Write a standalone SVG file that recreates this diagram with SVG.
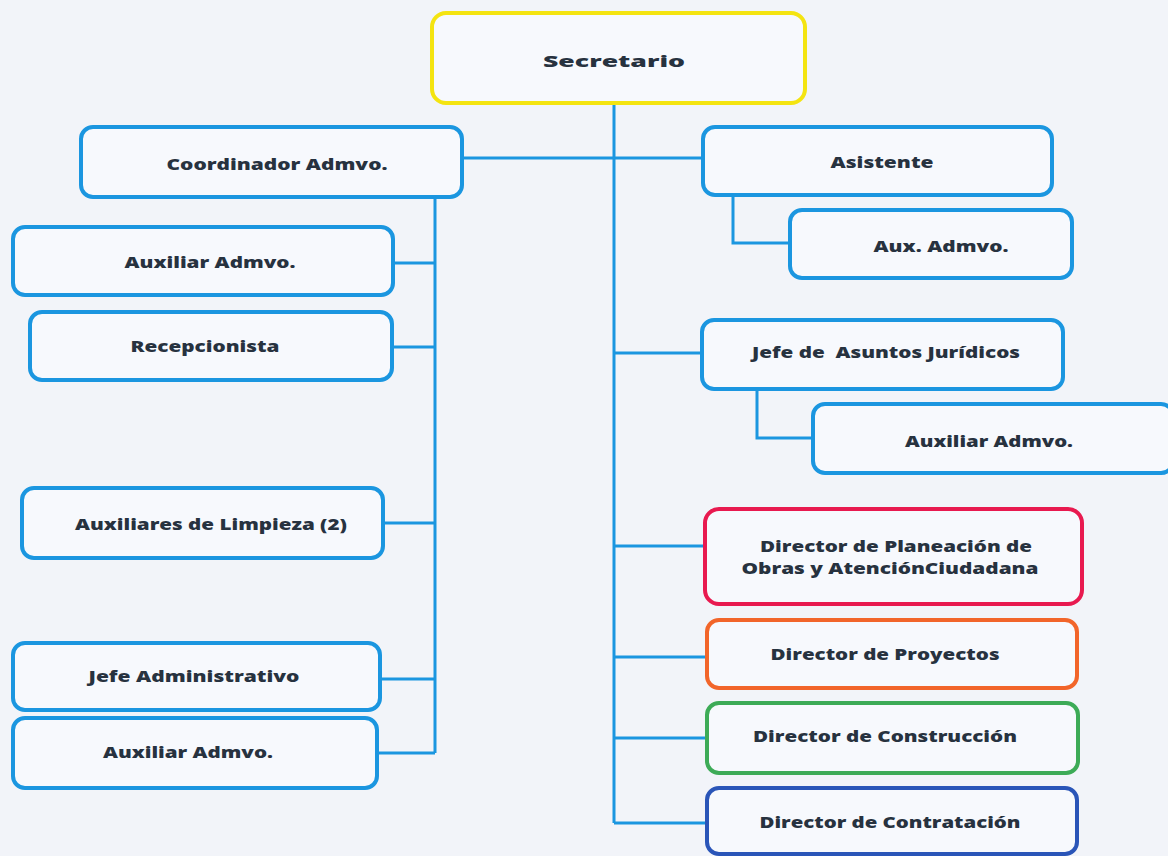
<svg xmlns="http://www.w3.org/2000/svg" width="1168" height="856" viewBox="0 0 1168 856">
<style>
.bx{fill:#f7f9fd;stroke:#1b96e0;stroke-width:4}
.y{stroke:#f4e411}
.r{stroke:#e8194f}
.o{stroke:#f2652a}
.g{stroke:#3dab57}
.b{stroke:#2a55b8}
.t{font-family:"Open Sans","Liberation Sans",sans-serif;font-weight:800;font-size:16px;fill:#27323f;text-anchor:middle}
.ln{fill:none;stroke:#1b96e0;stroke-width:3}
</style>
<rect width="1168" height="856" fill="#f2f4f9"/>
<g id="connectors">
<path class="ln" d="M614 103V823"/>
<path class="ln" d="M462 158H703"/>
<path class="ln" d="M435 197V753"/>
<path class="ln" d="M393 263H435M392 347H435M383 523H435M380 679H435M377 753H435"/>
<path class="ln" d="M733 195V243H790"/>
<path class="ln" d="M757 389V438H813"/>
<path class="ln" d="M614 353H702M614 546H705M614 657H707M614 738H707M614 823H707"/>
</g>
<g id="n-secretario"><rect class="bx y" x="432" y="13" width="373" height="90" rx="14"/><text class="t" x="614" y="67" font-size="20" textLength="142" lengthAdjust="spacingAndGlyphs">Secretario</text></g>
<g id="n-coordinador"><rect class="bx" x="81" y="127" width="381" height="70" rx="12"/><text class="t" x="277" y="170" textLength="221" lengthAdjust="spacingAndGlyphs">Coordinador Admvo.</text></g>
<g id="n-aux1"><rect class="bx" x="13" y="227" width="380" height="68" rx="12"/><text class="t" x="210" y="268" textLength="171" lengthAdjust="spacingAndGlyphs">Auxiliar Admvo.</text></g>
<g id="n-recep"><rect class="bx" x="30" y="312" width="362" height="68" rx="12"/><text class="t" x="205" y="352" textLength="149" lengthAdjust="spacingAndGlyphs">Recepcionista</text></g>
<g id="n-limpieza"><rect class="bx" x="22" y="488" width="361" height="70" rx="12"/><text class="t" x="211" y="530" textLength="272" lengthAdjust="spacingAndGlyphs">Auxiliares de Limpieza (2)</text></g>
<g id="n-jefeadm"><rect class="bx" x="13" y="643" width="367" height="67" rx="12"/><text class="t" x="194" y="682" textLength="211" lengthAdjust="spacingAndGlyphs">Jefe Administrativo</text></g>
<g id="n-aux2"><rect class="bx" x="13" y="718" width="364" height="70" rx="12"/><text class="t" x="188" y="758" textLength="170" lengthAdjust="spacingAndGlyphs">Auxiliar Admvo.</text></g>
<g id="n-asistente"><rect class="bx" x="703" y="127" width="349" height="68" rx="12"/><text class="t" x="882" y="168" textLength="103" lengthAdjust="spacingAndGlyphs">Asistente</text></g>
<g id="n-auxadm"><rect class="bx" x="790" y="210" width="282" height="68" rx="12"/><text class="t" x="941" y="252" textLength="135" lengthAdjust="spacingAndGlyphs">Aux. Admvo.</text></g>
<g id="n-juridicos"><rect class="bx" x="702" y="320" width="361" height="69" rx="12"/><text class="t" x="886" y="358" textLength="268" lengthAdjust="spacingAndGlyphs" xml:space="preserve">Jefe de  Asuntos Jurídicos</text></g>
<g id="n-aux3"><rect class="bx" x="813" y="404" width="360" height="69" rx="12"/><text class="t" x="989" y="447" textLength="168" lengthAdjust="spacingAndGlyphs">Auxiliar Admvo.</text></g>
<g id="n-planeacion"><rect class="bx r" x="705" y="509" width="377" height="95" rx="14"/><text class="t" x="896" y="552" textLength="272" lengthAdjust="spacingAndGlyphs">Director de Planeación de</text><text class="t" x="890" y="574" textLength="297" lengthAdjust="spacingAndGlyphs">Obras y AtenciónCiudadana</text></g>
<g id="n-proyectos"><rect class="bx o" x="707" y="620" width="370" height="68" rx="12"/><text class="t" x="885" y="660" textLength="229" lengthAdjust="spacingAndGlyphs">Director de Proyectos</text></g>
<g id="n-construccion"><rect class="bx g" x="707" y="703" width="371" height="70" rx="12"/><text class="t" x="885" y="742" textLength="264" lengthAdjust="spacingAndGlyphs">Director de Construcción</text></g>
<g id="n-contratacion"><rect class="bx b" x="707" y="788" width="370" height="66" rx="12"/><text class="t" x="890" y="828" textLength="261" lengthAdjust="spacingAndGlyphs">Director de Contratación</text></g>
</svg>
